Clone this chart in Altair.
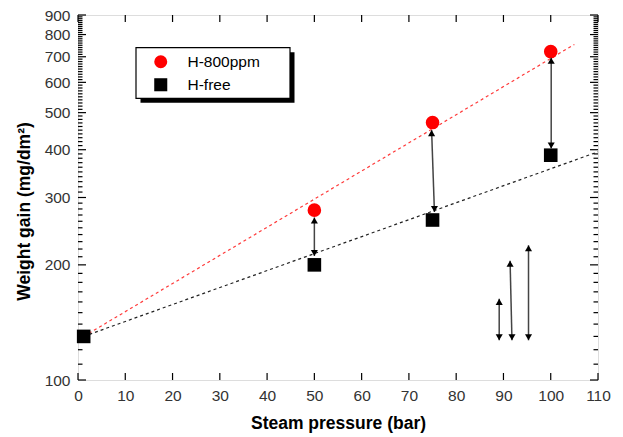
import altair as alt
import pandas as pd

# ---------------- data ----------------
series_names = ["H-800ppm", "H-free"]
h800_x = [50, 75, 100]
h800_y = [278, 471, 722]
hfree_x = [1.2, 50, 75, 100]
hfree_y = [130, 200, 262, 387]

# dotted trend lines (end points)
fit_red_x = [1.2, 105]
fit_red_y = [130, 754]
fit_black_x = [1.2, 110]
fit_black_y = [130, 395]

# double-headed arrows
arrow_x_top = [50, 74.8, 100.1, 89.1, 91.4, 95.3]
arrow_x_bot = [50, 75.4, 100.1, 89.1, 91.8, 95.3]
arrow_y_top = [266, 450, 696, 163, 205, 225]
arrow_y_bot = [211, 275, 403, 127, 127, 127]

x_ticks = list(range(0, 111, 10))
y_major = list(range(100, 901, 100))
y_minor = [v for v in range(110, 900, 10) if v % 100]

# ---------------- layout ----------------
W, H = 520, 365
FONT = "Liberation Sans"

xs = alt.Scale(domain=[0, 110], nice=False, zero=False)
ys = alt.Scale(type="log", domain=[100, 900], nice=False)

xaxis = alt.Axis(values=x_ticks, format="d", ticks=False, tickSize=0, domain=False, grid=False,
                 labelFont=FONT, labelFontSize=15.5, labelColor="#333333", labelPadding=8,
                 labelFlush=False, labelOverlap=False,
                 title="Steam pressure (bar)", titleFont=FONT, titleFontSize=17.5,
                 titleFontWeight="bold", titleColor="black", titleY=43, titleBaseline="middle")
yaxis = alt.Axis(values=y_major, format="d", ticks=False, tickSize=0, domain=False, grid=False,
                 labelFont=FONT, labelFontSize=15.5, labelColor="#333333", labelPadding=8,
                 labelFlush=False, labelOverlap=False,
                 title="Weight gain (mg/dm²)", titleFont=FONT, titleFontSize=17.5,
                 titleFontWeight="bold", titleColor="black", titleAngle=270,
                 titleX=-54, titleY=196, titleBaseline="middle", titleAlign="center")

pts = pd.DataFrame({
    "x": h800_x + hfree_x,
    "y": h800_y + hfree_y,
    "series": [series_names[0]] * len(h800_x) + [series_names[1]] * len(hfree_x),
})
fits = pd.DataFrame({
    "x": fit_red_x + fit_black_x,
    "y": fit_red_y + fit_black_y,
    "series": [series_names[0]] * 2 + [series_names[1]] * 2,
})
arrows = pd.DataFrame({"xt": arrow_x_top, "xb": arrow_x_bot, "yt": arrow_y_top, "yb": arrow_y_bot})

# legend frame (plot-relative pixels); the legend itself draws only symbols + labels
LX, LY, LW, LH, SH = 58, 32.7, 154, 50.6, 4.5
leg = alt.Legend(orient="none", legendX=LX, legendY=LY, title=None,
                 padding=6.3, rowPadding=6,
                 symbolOffset=10.7, labelOffset=19, symbolSize=170, symbolStrokeWidth=0,
                 labelFont=FONT, labelFontSize=15.5, labelColor="black")

color = alt.Color("series:N", scale=alt.Scale(domain=series_names, range=["#ff0000", "#000000"]), legend=leg)
shape = alt.Shape("series:N", scale=alt.Scale(domain=series_names, range=["circle", "square"]), legend=leg)

base_x = alt.X("x:Q", scale=xs, axis=xaxis)
base_y = alt.Y("y:Q", scale=ys, axis=yaxis)

red_line = alt.Chart(fits[fits.series == series_names[0]]).mark_line(
    color="#ff3b3b", strokeWidth=1.2, strokeDash=[3, 3]).encode(x=base_x, y=base_y)
black_line = alt.Chart(fits[fits.series == series_names[1]]).mark_line(
    color="#222222", strokeWidth=1.2, strokeDash=[3, 3]).encode(x=base_x, y=base_y)

points = alt.Chart(pts).mark_point(filled=True, size=185, opacity=1).encode(
    x=base_x, y=base_y, color=color, shape=shape)

arrow_shaft = alt.Chart(arrows).mark_rule(color="#444444", strokeWidth=1.5).encode(
    x=alt.X("xt:Q", scale=xs, axis=xaxis), x2="xb:Q",
    y=alt.Y("yt:Q", scale=ys, axis=yaxis), y2="yb:Q")
head_up = alt.Chart(arrows).mark_point(shape="triangle-up", filled=True, size=50, color="black",
                                       opacity=1, yOffset=3).encode(
    x=alt.X("xt:Q", scale=xs, axis=xaxis), y=alt.Y("yt:Q", scale=ys, axis=yaxis))
head_down = alt.Chart(arrows).mark_point(shape="triangle-down", filled=True, size=50, color="black",
                                         opacity=1, yOffset=-3).encode(
    x=alt.X("xb:Q", scale=xs, axis=xaxis), y=alt.Y("yb:Q", scale=ys, axis=yaxis))

# inward frame ticks: line-segment rules positioned by the chart's scales
ymaj = pd.DataFrame({"v": y_major})
ymin = pd.DataFrame({"v": y_minor})
xt = pd.DataFrame({"v": x_ticks})

def yticks(df, x0, x1):
    return alt.Chart(df).mark_rule(color="black", strokeWidth=1.2).encode(
        y=alt.Y("v:Q", scale=ys, axis=yaxis), y2="v:Q",
        x=alt.value(x0), x2=alt.value(x1))

def xticks(y0, y1):
    return alt.Chart(xt).mark_rule(color="black", strokeWidth=1.2).encode(
        x=alt.X("v:Q", scale=xs, axis=xaxis), x2="v:Q",
        y=alt.value(y0), y2=alt.value(y1))

ticks = [
    yticks(ymaj, 0, 8), yticks(ymin, 0, 4.5),
    yticks(ymaj, W - 8, W), yticks(ymin, W - 4.5, W),
    xticks(0, 7), xticks(H - 7, H),
]

one = pd.DataFrame({"k": [0]})
shadow = alt.Chart(one).mark_rect(color="black").encode(
    x=alt.value(LX + SH), x2=alt.value(LX + LW + SH), y=alt.value(LY + SH), y2=alt.value(LY + LH + SH))
box = alt.Chart(one).mark_rect(fill="white", stroke="black", strokeWidth=1.2).encode(
    x=alt.value(LX), x2=alt.value(LX + LW), y=alt.value(LY), y2=alt.value(LY + LH))

chart = alt.layer(
    red_line, black_line, *ticks, points, arrow_shaft, head_up, head_down, shadow, box
).resolve_scale(color="shared", shape="shared").properties(
    width=W, height=H,
    autosize=alt.AutoSizeParams(type="none"),
    padding={"left": 78, "top": 15, "right": 25, "bottom": 57},
).configure_view(stroke="black", strokeWidth=2).configure(background="white")

chart.save("out.html", embed_options={"renderer": "svg", "actions": False})
